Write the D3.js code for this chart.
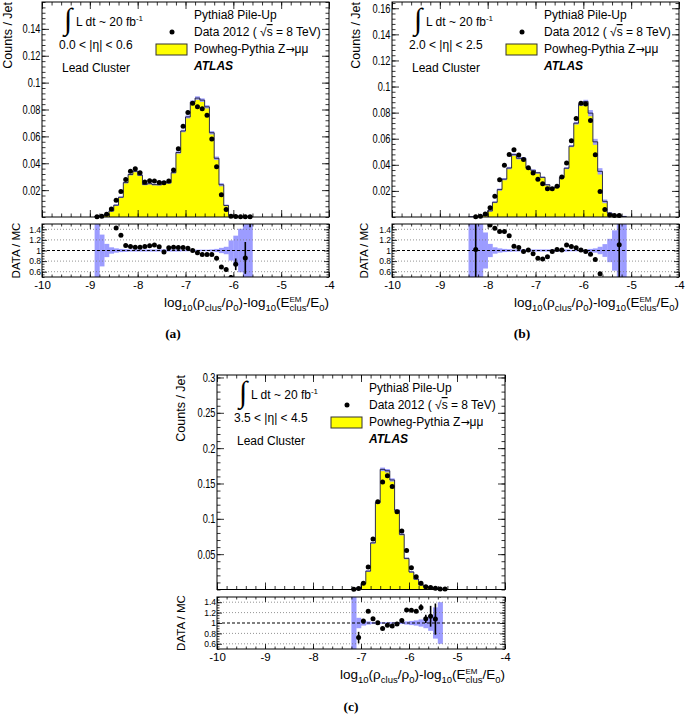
<!DOCTYPE html>
<html><head><meta charset="utf-8">
<script src="https://cdn.jsdelivr.net/npm/d3@7"></script>
<style>
body{margin:0;background:#fff;}
</style></head><body><svg id="c" width="685" height="715" font-family="Liberation Sans, Arial, Helvetica, sans-serif"></svg>
<script>
// ---------------- DATA ----------------
const xMajorTicks = [-10,-9,-8,-7,-6,-5,-4];
const xTickLabels = ["-10","-9","-8","-7","-6","-5","-4"];
const ratioTicks = [0.6,0.8,1,1.2,1.4];
const ratioTickLabels = ["0.6","0.8","1","1.2","1.4"];
const yTicksA = [0.02,0.04,0.06,0.08,0.1,0.12,0.14];
const yTicksB = [0.02,0.04,0.06,0.08,0.1,0.12,0.14,0.16];
const yTicksC = [0.05,0.1,0.15,0.2,0.25,0.3];

const centersA = [-8.85,-8.75,-8.65,-8.55,-8.45,-8.35,-8.25,-8.15,-8.05,-7.95,-7.85,-7.75,-7.65,-7.55,-7.45,-7.35,-7.25,-7.15,-7.05,-6.95,-6.85,-6.75,-6.65,-6.55,-6.45,-6.35,-6.25,-6.15,-6.05,-5.95,-5.85,-5.75,-5.65];
const dataA = [0.0002,0.0005,0.002,0.006,0.0125,0.019,0.028,0.034,0.036,0.033,0.026,0.027,0.0267,0.0257,0.0255,0.0267,0.035,0.0507,0.0676,0.0778,0.0847,0.082,0.0805,0.0758,0.058,0.0374,0.0165,0.0055,0.0006,0.0003,0.0002,0.0002,0.0002];
const mcA = [0.0003,0.0008,0.0016,0.0045,0.0088,0.0147,0.0256,0.0316,0.034,0.0311,0.0242,0.0248,0.0241,0.024,0.0263,0.0254,0.033,0.048,0.064,0.0745,0.0855,0.0885,0.087,0.082,0.0627,0.0437,0.024,0.0086,0.0012,0.0004,0.0003,0.0002,0.0001];
const ratioA = [null,null,null,null,1.425,1.29,1.094,1.075,1.06,1.06,1.075,1.09,1.106,1.07,0.97,1.05,1.06,1.056,1.056,1.044,1.0,0.956,0.925,0.925,0.925,0.856,0.69,0.64,0.49,0.74,null,0.86,1.6];
const ratioErrA = [0,0,0,0,0.02,0.015,0.01,0.01,0.01,0.01,0.01,0.01,0.01,0.01,0.01,0.01,0.01,0.01,0.01,0.01,0.01,0.01,0.01,0.01,0.01,0.015,0.02,0.03,0.05,0.11,0,0.3,0.16];
const bandA = [0.6,0.3,0.125,0.06,0.04,0.03,0.025,0.02,0.02,0.02,0.02,0.02,0.02,0.02,0.02,0.02,0.02,0.02,0.015,0.015,0.015,0.015,0.015,0.015,0.02,0.03,0.05,0.07,0.19,0.28,0.41,0.6,0.6];

const centersB = [-8.35,-8.25,-8.15,-8.05,-7.95,-7.85,-7.75,-7.65,-7.55,-7.45,-7.35,-7.25,-7.15,-7.05,-6.95,-6.85,-6.75,-6.65,-6.55,-6.45,-6.35,-6.25,-6.15,-6.05,-5.95,-5.85,-5.75,-5.65,-5.55,-5.45,-5.35,-5.25,-5.15];
const dataB = [null,0.0002,0.0005,0.0023,0.007,0.016,0.0286,0.0396,0.048,0.0516,0.0475,0.0441,0.0377,0.0337,0.029,0.0255,0.0217,0.0217,0.0235,0.0306,0.0414,0.0584,0.0755,0.0872,0.0867,0.074,0.0478,0.0196,0.0057,0.0015,0.0012,0.0011,null];
const mcB = [0.0001,0.0002,0.0004,0.0012,0.0047,0.0113,0.021,0.029,0.0375,0.0478,0.045,0.045,0.0373,0.0358,0.0339,0.0304,0.0247,0.0221,0.023,0.0303,0.0374,0.0543,0.0719,0.0863,0.0885,0.0796,0.0576,0.035,0.012,0.003,0.0012,0.001,0.0003];
const ratioB = [null,1.02,null,null,1.48,1.42,1.36,1.36,1.28,1.08,1.056,0.98,1.01,0.94,0.856,0.84,0.88,0.98,1.02,1.01,1.106,1.075,1.05,1.01,0.98,0.93,0.83,0.56,null,null,null,1.11,null];
const ratioErrB = [0,0.8,0,0,0.03,0.02,0.015,0.01,0.01,0.01,0.01,0.01,0.01,0.01,0.01,0.01,0.01,0.01,0.01,0.01,0.01,0.01,0.01,0.01,0.01,0.01,0.015,0.02,0,0,0,0.8,0];
const bandB = [0.8,0.8,0.8,0.34,0.125,0.06,0.04,0.03,0.025,0.02,0.02,0.02,0.02,0.02,0.02,0.02,0.02,0.02,0.02,0.02,0.02,0.015,0.015,0.015,0.015,0.03,0.04,0.07,0.12,0.22,0.38,0.8,0.8];

const centersC = [-7.15,-7.05,-6.95,-6.85,-6.75,-6.65,-6.55,-6.45,-6.35,-6.25,-6.15,-6.05,-5.95,-5.85,-5.75,-5.65,-5.55,-5.45,-5.35,-5.25];
const dataC = [0.0003,0.0015,0.0087,0.032,0.0713,0.124,0.152,0.161,0.1457,0.11,0.0826,0.0553,0.0308,0.018,0.0087,0.004,0.0027,0.0018,0.0008,0.0008];
const mcC = [0.0004,0.002,0.0084,0.026,0.066,0.123,0.170,0.168,0.155,0.112,0.078,0.044,0.0248,0.0147,0.0067,0.0037,0.0024,0.0017,0.0006,0];
const ratioC = [null,0.72,1.04,1.225,1.08,1.006,0.894,0.956,0.944,0.98,1.05,1.25,1.244,1.225,1.3,1.08,1.13,1.075,1.6,null];
const ratioErrC = [0,0.11,0.02,0.02,0.01,0.01,0.01,0.01,0.01,0.01,0.01,0.02,0.02,0.03,0.06,0.08,0.2,0.3,0.11,0];
const bandC = [0.6,0.1,0.05,0.03,0.02,0.015,0.015,0.015,0.015,0.015,0.02,0.03,0.04,0.05,0.07,0.1,0.15,0.3,0.4,0];

const etaLabels = ["0.0 < |η| < 0.6","2.0 < |η| < 2.5","3.5 < |η| < 4.5"];
const panelLabels = ["(a)","(b)","(c)"];

// ---------------- DRAW ----------------
const BIN_W = 0.1;
const YELLOW = "#ffff00", BAND = "#9c9cff";
const svg = d3.select("#c");
const defs = svg.append("defs");

function drawPanel(cfg, idx){
  const {x0,x1,my0,my1,ry0,ry1,yMax,yTicks,yMinor,centers,data,mc,ratio,ratioErr,band,
         cntX,dmX,lab} = cfg;
  const g = svg.append("g");
  const x = d3.scaleLinear().domain([-10,-4]).range([x0,x1]);
  const y = d3.scaleLinear().domain([0,yMax]).range([my1,my0]);
  const yr = d3.scaleLinear().domain([0.5,1.5]).range([ry1,ry0]);

  const cm = "cm"+idx, cr = "cr"+idx;
  defs.append("clipPath").attr("id",cm).append("rect").attr("x",x0).attr("y",my0).attr("width",x1-x0).attr("height",my1-my0);
  defs.append("clipPath").attr("id",cr).append("rect").attr("x",x0).attr("y",ry0).attr("width",x1-x0).attr("height",ry1-ry0);

  const bins = centers.map((c,i)=>({lo:c-BIN_W/2, hi:c+BIN_W/2, c, d:data[i], m:mc[i], r:ratio[i], re:ratioErr[i], b:band[i]}));

  const pts = [[x(bins[0].lo), y(0)]];
  bins.forEach(b=>{pts.push([x(b.lo),y(b.m)]); pts.push([x(b.hi),y(b.m)]);});
  pts.push([x(bins[bins.length-1].hi), y(0)]);
  const line = d3.line();
  const gm = g.append("g").attr("clip-path",`url(#${cm})`);
  gm.append("path").attr("d",line(pts)+"Z").attr("fill",YELLOW).attr("stroke","none");
  gm.selectAll("rect.band").data(bins.filter(b=>b.m>0)).join("rect")
    .attr("x",b=>x(b.lo)).attr("width",b=>x(b.hi)-x(b.lo))
    .attr("y",b=>Math.min(y(b.m*(1+b.b)), y(b.m)-0.8))
    .attr("height",b=>Math.max(y(b.m*(1-b.b))-y(b.m*(1+b.b)),1.6))
    .attr("fill",BAND).attr("opacity",0.95);
  gm.append("path").attr("d",line(pts)).attr("fill","none").attr("stroke","#1a1a40").attr("stroke-width",0.9);

  g.selectAll("circle.dm").data(bins.filter(b=>b.d!==null)).join("circle")
    .attr("cx",b=>x(b.c)).attr("cy",b=>y(b.d)).attr("r",2.5).attr("fill","#000");

  g.append("rect").attr("x",x0).attr("y",my0).attr("width",x1-x0).attr("height",my1-my0)
    .attr("fill","none").attr("stroke","#000").attr("stroke-width",1);

  const xMinor = d3.range(-10,-3.99,0.2);
  function axisTicks(axisFn, scale, vals, size, tr){
    const a = g.append("g").attr("transform",tr)
      .call(axisFn(scale).tickValues(vals).tickSize(size).tickFormat(""));
    a.select(".domain").remove();
    a.selectAll("line").attr("stroke","#000").attr("stroke-width",0.8);
    return a;
  }
  axisTicks(d3.axisBottom, x, xMinor, -3.5, `translate(0,${my1})`);
  axisTicks(d3.axisBottom, x, xMajorTicks, -7, `translate(0,${my1})`);
  axisTicks(d3.axisTop, x, xMinor, -3.5, `translate(0,${my0})`);
  axisTicks(d3.axisTop, x, xMajorTicks, -7, `translate(0,${my0})`);
  axisTicks(d3.axisLeft, y, yMinor, -3.5, `translate(${x0},0)`);
  axisTicks(d3.axisLeft, y, yTicks, -7, `translate(${x0},0)`);
  axisTicks(d3.axisRight, y, yMinor, -3.5, `translate(${x1},0)`);
  axisTicks(d3.axisRight, y, yTicks, -7, `translate(${x1},0)`);
  const yl = g.append("g").attr("transform",`translate(${x0-1.5},0)`)
    .call(d3.axisLeft(y).tickValues(yTicks).tickSize(0).tickPadding(0).tickFormat(v=>String(+v.toFixed(3))));
  yl.select(".domain").remove();
  yl.attr("font-family",null).attr("font-size",null);
  yl.selectAll("text").attr("font-size",12.5).attr("x",0).attr("text-anchor","end");
  yl.selectAll("text").attr("textLength",function(){return this.getComputedTextLength()*0.74;}).attr("lengthAdjust","spacingAndGlyphs");

  // ---- ratio panel
  const grr = g.append("g").attr("clip-path",`url(#${cr})`);
  grr.selectAll("rect.rb").data(bins.filter(b=>b.b>0)).join("rect")
    .attr("x",b=>x(b.lo)).attr("width",b=>x(b.hi)-x(b.lo)+0.3)
    .attr("y",b=>yr(1+b.b)).attr("height",b=>yr(1-b.b)-yr(1+b.b)).attr("fill",BAND);
  [0.6,0.8,1.2,1.4].forEach(v=>{
    grr.append("line").attr("x1",x0).attr("x2",x1).attr("y1",yr(v)).attr("y2",yr(v))
      .attr("stroke","#777").attr("stroke-width",0.8).attr("stroke-dasharray","1,2");
  });
  grr.append("line").attr("x1",x0).attr("x2",x1).attr("y1",yr(1)).attr("y2",yr(1))
    .attr("stroke","#000").attr("stroke-width",1.1).attr("stroke-dasharray","3,2");
  const rp = bins.filter(b=>b.r!==null);
  grr.selectAll("line.re").data(rp.filter(b=>b.re>0)).join("line")
    .attr("x1",b=>x(b.c)).attr("x2",b=>x(b.c)).attr("y1",b=>yr(b.r-b.re)).attr("y2",b=>yr(b.r+b.re))
    .attr("stroke","#000").attr("stroke-width",1.6);
  grr.selectAll("circle.rp").data(rp).join("circle")
    .attr("cx",b=>x(b.c)).attr("cy",b=>yr(b.r)).attr("r",2.5).attr("fill","#000");
  g.append("rect").attr("x",x0).attr("y",ry0).attr("width",x1-x0).attr("height",ry1-ry0)
    .attr("fill","none").attr("stroke","#000").attr("stroke-width",1);
  const rMinor = d3.range(0.5,1.501,0.05);
  axisTicks(d3.axisBottom, x, xMinor, -2.5, `translate(0,${ry1})`);
  axisTicks(d3.axisBottom, x, xMajorTicks, -5, `translate(0,${ry1})`);
  axisTicks(d3.axisTop, x, xMinor, -2.5, `translate(0,${ry0})`);
  axisTicks(d3.axisTop, x, xMajorTicks, -5, `translate(0,${ry0})`);
  axisTicks(d3.axisLeft, yr, rMinor, -2.5, `translate(${x0},0)`);
  axisTicks(d3.axisLeft, yr, ratioTicks, -5, `translate(${x0},0)`);
  axisTicks(d3.axisRight, yr, rMinor, -2.5, `translate(${x1},0)`);
  axisTicks(d3.axisRight, yr, ratioTicks, -5, `translate(${x1},0)`);
  const rl = g.append("g").attr("transform",`translate(${x0-1},0)`)
    .call(d3.axisLeft(yr).tickValues(ratioTicks).tickSize(0).tickPadding(0).tickFormat((v,i)=>ratioTickLabels[i]));
  rl.select(".domain").remove();
  rl.attr("font-family",null);
  rl.selectAll("text").attr("font-size",8.5);
  const xl = g.append("g").attr("transform",`translate(0,${ry1+4})`)
    .call(d3.axisBottom(x).tickValues(xMajorTicks).tickSize(0).tickPadding(0).tickFormat((v,i)=>xTickLabels[i]));
  xl.select(".domain").remove();
  xl.attr("font-family",null);
  xl.selectAll("text").attr("font-size",11.5);

  g.append("text").attr("transform",`translate(${cntX},${my0}) rotate(-90)`).attr("text-anchor","end")
    .attr("dy","0.35em").attr("font-size",12.5).text("Counts / Jet");
  g.append("text").attr("transform",`translate(${dmX},${(ry0+ry1)/2}) rotate(-90)`).attr("text-anchor","middle")
    .attr("dy","0.35em").attr("font-size",11.5).text("DATA / MC");

  // x title (right aligned)
  const F=13.5, S=9.5;
  const tg = g.append("g");
  let cx = 0;
  const segs = [
    {t:"log",s:F,dy:0},{t:"10",s:S,dy:4},{t:"(ρ",s:F,dy:0},{t:"clus",s:S,dy:4},{t:"/ρ",s:F,dy:0},{t:"0",s:S,dy:4},
    {t:")-log",s:F,dy:0},{t:"10",s:S,dy:4},{t:"(E",s:F,dy:0},{stack:[{t:"EM",s:8,dy:-5.5},{t:"clus",s:S,dy:4}]},
    {t:"/E",s:F,dy:0},{t:"0",s:S,dy:4},{t:")",s:F,dy:0}];
  segs.forEach(sg=>{
    if(sg.stack){
      let w=0;
      sg.stack.forEach(s2=>{const e=tg.append("text").attr("x",cx).attr("y",s2.dy).attr("font-size",s2.s).text(s2.t);
        w=Math.max(w,e.node().getComputedTextLength());});
      cx+=w;
    } else {
      const e=tg.append("text").attr("x",cx).attr("y",sg.dy).attr("font-size",sg.s).text(sg.t);
      cx+=e.node().getComputedTextLength();
    }
  });
  tg.attr("transform",`translate(${x1-cx},${ry1+30})`);

  // annotations
  g.append("text").attr("x",x0+22).attr("y",my0+27).attr("font-size",30)
    .attr("font-family","Liberation Serif, DejaVu Serif, serif").text("∫");
  const lt = g.append("text").attr("x",x0+34).attr("y",my0+24).attr("font-size",12);
  lt.append("tspan").text("L dt ~ 20 fb");
  lt.append("tspan").attr("dy",-5).attr("font-size",8).text("-1");
  g.append("text").attr("x",x0+17).attr("y",my0+47).attr("font-size",12).text(etaLabels[idx]);
  g.append("text").attr("x",x0+20).attr("y",my0+70).attr("font-size",12).text("Lead Cluster");

  const lx = x0+152;
  g.append("text").attr("x",lx).attr("y",my0+17).attr("font-size",12).text("Pythia8 Pile-Up");
  g.append("circle").attr("cx",x0+130).attr("cy",my0+30).attr("r",2.5).attr("fill","#000");
  const dt = g.append("text").attr("x",lx).attr("y",my0+34).attr("font-size",12);
  dt.append("tspan").text("Data 2012 ( ");
  dt.append("tspan").text("√");
  dt.append("tspan").attr("text-decoration","overline").text("s");
  dt.append("tspan").text(" = 8 TeV)");
  g.append("rect").attr("x",x0+114).attr("y",my0+42).attr("width",31).attr("height",11)
    .attr("fill",YELLOW).attr("stroke","#333").attr("stroke-width",1);
  const pt = g.append("text").attr("x",lx).attr("y",my0+51).attr("font-size",12);
  pt.append("tspan").text("Powheg-Pythia Z");
  pt.append("tspan").attr("font-family","DejaVu Sans, sans-serif").attr("font-size",11).text("→");
  pt.append("tspan").text("μμ");
  g.append("text").attr("x",lx).attr("y",my0+68).attr("font-size",12).attr("font-weight","bold")
    .attr("font-style","italic").text("ATLAS");

  g.append("text").attr("x",lab[0]).attr("y",lab[1]).attr("text-anchor","middle")
    .attr("font-family","Liberation Serif, Times New Roman, serif").attr("font-weight","bold")
    .attr("font-size",13.5).text(panelLabels[idx]);
}

drawPanel({x0:42,x1:329,my0:2,my1:217,ry0:224,ry1:277,yMax:0.16,yTicks:yTicksA,yMinor:d3.range(0,0.1601,0.004),
  centers:centersA,data:dataA,mc:mcA,ratio:ratioA,ratioErr:ratioErrA,band:bandA,cntX:7.5,dmX:16,lab:[173,338]},0);
drawPanel({x0:392,x1:679,my0:2,my1:217,ry0:224,ry1:277,yMax:0.1648,yTicks:yTicksB,yMinor:d3.range(0,0.1648,0.004),
  centers:centersB,data:dataB,mc:mcB,ratio:ratioB,ratioErr:ratioErrB,band:bandB,cntX:356,dmX:364,lab:[522,338]},1);
drawPanel({x0:217,x1:505,my0:375,my1:589.5,ry0:597,ry1:649,yMax:0.3035,yTicks:yTicksC,yMinor:d3.range(0,0.3035,0.01),
  centers:centersC,data:dataC,mc:mcC,ratio:ratioC,ratioErr:ratioErrC,band:bandC,cntX:181,dmX:181,lab:[351,711]},2);
</script></body></html>
